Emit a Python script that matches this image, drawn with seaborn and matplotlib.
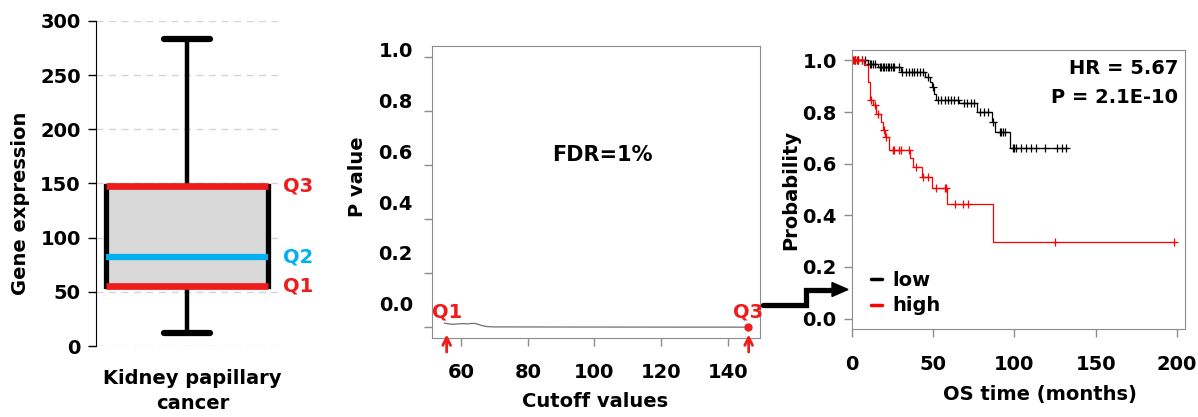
"""plot.py

Gene expression quartiles, cutoff scan and KM curves.

"""

import numpy as np
import matplotlib
matplotlib.use("Agg")
import matplotlib.pyplot as plt
import matplotlib.transforms as mtransforms
from matplotlib.lines import Line2D
from matplotlib.patches import Polygon
import seaborn as sns

# box summary (gene expression)
box_low = 12
box_q1 = 55
box_q2 = 82
box_q3 = 148
box_high = 283
box_ticks = [0, 50, 100, 150, 200, 250, 300]

# cutoff scan
cutoff = [55, 56, 57, 58, 59, 60, 61, 62, 63, 64, 65, 66, 67, 68, 70,
          75, 80, 90, 100, 110, 120, 130, 140, 146]
pval = [0.015, 0.013, 0.011, 0.011, 0.012, 0.013, 0.013, 0.012, 0.014,
        0.014, 0.011, 0.007, 0.004, 0.002, 0.001, 0.001, 0.0008, 0.0006,
        0.0005, 0.0004, 0.0003, 0.0002, 0.0001, 0.0001]
p_ticks = [0.0, 0.2, 0.4, 0.6, 0.8, 1.0]
cut_ticks = [60, 80, 100, 120, 140]

# Kaplan-Meier steps
low_t = [0, 10, 16, 30, 45, 48, 49.5, 50.5, 51.5, 66, 77, 86, 88, 97, 133]
low_s = [1.0, 0.987, 0.974, 0.955, 0.936, 0.917, 0.895, 0.87, 0.846,
         0.833, 0.80, 0.762, 0.723, 0.66, 0.66]
low_cens = [2, 4, 6, 8, 11, 12, 13, 14, 17, 18, 19, 20, 21, 22, 23, 24,
            25, 26, 29, 31, 33, 35, 37, 38, 40, 42, 44, 47, 50, 53, 55,
            57, 59, 61, 63, 65, 69, 71, 73, 75, 79, 81, 84, 87, 91, 92,
            93, 94, 99, 100, 101, 104, 107, 110, 113, 119, 126, 129, 132]
high_t = [0, 7.5, 10, 11, 13, 15, 18, 19, 20.5, 23, 35.7, 37.7, 42.9, 49,
          58.6, 87, 198]
high_s = [1.0, 0.98, 0.916, 0.846, 0.826, 0.794, 0.762, 0.73, 0.704,
          0.653, 0.62, 0.588, 0.55, 0.505, 0.444, 0.296, 0.296]
high_cens = [0.5, 1, 2, 3, 4, 6, 12, 14, 16, 19.5, 21, 25, 26, 29, 30, 35,
             39.5, 44, 47, 52, 57, 58, 63.4, 68.5, 71.5, 125, 198]
km_xticks = [0, 50, 100, 150, 200]
km_yticks = [0.0, 0.2, 0.4, 0.6, 0.8, 1.0]

RED = '#ee1c1c'
CYAN = '#00b0f0'
GRAY = '#8c8c8c'
FS = 14

W, H = 1198, 417


def fx(px):
    return px / W


def fy(py):
    return 1 - py / H


def step_value(times, surv, t):
    idx = np.searchsorted(times, t, side='right') - 1
    return np.asarray(surv)[idx]


sns.set_style('white')
plt.rcParams['font.family'] = ['DejaVu Sans']
plt.rcParams['font.weight'] = 'bold'
plt.rcParams['axes.labelweight'] = 'bold'
plt.rcParams['text.color'] = 'black'
plt.rcParams['axes.labelcolor'] = 'black'
plt.rcParams['xtick.labelcolor'] = 'black'
plt.rcParams['ytick.labelcolor'] = 'black'

fig = plt.figure(figsize=(W / 100, H / 100), dpi=100)

# ---- panel 1: box
ax1 = fig.add_axes([fx(96), fy(346), fx(182), 325 / H])
ax1.bxp([{'med': box_q2, 'q1': box_q1, 'q3': box_q3,
          'whislo': box_low, 'whishi': box_high, 'fliers': []}],
        positions=[0], widths=0.885, capwidths=0.253, patch_artist=True,
        showfliers=False,
        boxprops={'facecolor': '#d9d9d9', 'edgecolor': 'black',
                  'linewidth': 3.8},
        whiskerprops={'color': 'black', 'linewidth': 3.2},
        capprops={'color': 'black', 'linewidth': 4.5},
        medianprops={'color': CYAN, 'linewidth': 4.5, 'solid_capstyle': 'butt'})
ax1.hlines([box_q1, box_q3], -0.4425, 0.4425, color=RED, lw=4.8, zorder=5)
ax1.set_xlim(-0.5, 0.5)
ax1.set_ylim(0, 300)
ax1.set_yticks(box_ticks)
ax1.set_xticks([])
ax1.yaxis.grid(True, ls=(0, (5, 4)), color='#d4d4d4', lw=1)
ax1.set_axisbelow(True)
for side in ['top', 'right', 'bottom']:
    ax1.spines[side].set_visible(False)
ax1.spines['left'].set_color('black')
ax1.tick_params(axis='y', left=True, length=6, width=1, color='black',
                labelsize=FS, pad=5)
tr1 = mtransforms.blended_transform_factory(ax1.transAxes, ax1.transData)
for lab, val, col in [('Q3', box_q3, RED), ('Q2', box_q2, CYAN),
                      ('Q1', box_q1, RED)]:
    ax1.text(1.03, val, lab, color=col, fontsize=FS, fontweight='bold',
             ha='left', va='center', transform=tr1, clip_on=False)
ax1.set_ylabel('Gene expression', fontsize=FS)
ax1.yaxis.set_label_coords(-0.365, 0.44)
ax1.set_xlabel('Kidney papillary\ncancer', fontsize=FS, linespacing=1.35)
ax1.xaxis.set_label_coords(0.53, -0.072)

# ---- panel 2: cutoff scan
ax2 = fig.add_axes([fx(432), fy(338), fx(328), 292 / H])
sns.lineplot(x=cutoff, y=pval, ax=ax2, color='#707070', lw=0.9,
             estimator=None)
ax2.plot([cutoff[-1]], [pval[-1]], 'o', color=RED, ms=5, zorder=6)
ax2.set_xlim(51.3, 149.6)
ax2.set_ylim(-0.04, 1.04)
ax2.set_xticks(cut_ticks)
ax2.set_yticks(p_ticks)
ax2.set_yticklabels([])
for s in ax2.spines.values():
    s.set_color(GRAY)
ax2.tick_params(axis='both', length=6, width=1, color=GRAY, labelsize=FS)
ax2.tick_params(axis='x', bottom=True, pad=12)
ax2.tick_params(axis='y', left=True)
tr2 = mtransforms.blended_transform_factory(ax2.transAxes, ax2.transData)
for v in p_ticks:
    ax2.text(-0.058, 0.08 + 0.938 * v, '%.1f' % v, fontsize=FS,
             fontweight='bold', ha='right', va='center', transform=tr2)
ax2.text(0.52, 0.627, 'FDR=1%', fontsize=FS + 1, fontweight='bold',
         ha='center', va='center', transform=ax2.transAxes)
for lab, xv in [('Q1', 55.8), ('Q3', 146.1)]:
    ax2.text(xv, 0.055, lab, color=RED, fontsize=FS, fontweight='bold',
             ha='center', va='center', clip_on=False)
for xv in [55.7, 146.2]:
    ax2.annotate('', xy=(xv, -0.027), xytext=(xv, -0.092),
                 arrowprops={'arrowstyle': '->', 'color': RED, 'lw': 2,
                             'mutation_scale': 14,
                             'shrinkA': 0, 'shrinkB': 0},
                 annotation_clip=False)
ax2.set_ylabel('P value', fontsize=FS)
ax2.yaxis.set_label_coords(-0.199, 0.551)
ax2.set_xlabel('Cutoff values', fontsize=FS)
ax2.xaxis.set_label_coords(0.497, -0.185)

# ---- panel 3: KM
ax3 = fig.add_axes([fx(852), fy(329), fx(333), 279 / H])
sns.lineplot(x=low_t, y=low_s, ax=ax3, color='black', lw=0.9,
             drawstyle='steps-post', estimator=None)
sns.lineplot(x=high_t, y=high_s, ax=ax3, color='red', lw=0.9,
             drawstyle='steps-post', estimator=None)
ax3.plot(low_cens, step_value(low_t, low_s, low_cens), ls='', marker='+',
         color='black', ms=6, mew=0.9)
ax3.plot(high_cens, step_value(high_t, high_s, high_cens), ls='',
         marker='+', color='red', ms=6, mew=0.9)
ax3.set_xlim(0, 205)
ax3.set_ylim(-0.04, 1.04)
ax3.set_xticks(km_xticks)
ax3.set_yticks(km_yticks)
ax3.set_yticklabels(['%.1f' % v for v in km_yticks])
for s in ax3.spines.values():
    s.set_color(GRAY)
ax3.tick_params(axis='both', length=6, width=1, color=GRAY, labelsize=FS)
ax3.tick_params(axis='x', bottom=True, pad=13)
ax3.tick_params(axis='y', left=True, pad=5)
ax3.text(0.979, 0.935, 'HR = 5.67', fontsize=FS, fontweight='bold',
         ha='right', va='center', transform=ax3.transAxes)
ax3.text(0.979, 0.828, 'P = 2.1E-10', fontsize=FS, fontweight='bold',
         ha='right', va='center', transform=ax3.transAxes)
leg = ax3.legend(handles=[Line2D([], [], color='black', lw=2.5),
                          Line2D([], [], color='red', lw=2.5)],
                 labels=['low', 'high'], frameon=False, fontsize=FS,
                 handlelength=0.6, handletextpad=0.5, labelspacing=0.35,
                 loc='lower left', bbox_to_anchor=(0.015, 0.0),
                 borderaxespad=0.3)
ax3.set_ylabel('Probability', fontsize=FS)
ax3.yaxis.set_label_coords(-0.156, 0.498)
ax3.set_xlabel('OS time (months)', fontsize=FS)
ax3.xaxis.set_label_coords(0.565, -0.2)

# ---- connector arrow between panels
fig.add_artist(Line2D([fx(763), fx(805.5), fx(805.5), fx(834)],
                      [fy(305), fy(305), fy(289.5), fy(289.5)],
                      color='black', lw=3.8, solid_joinstyle='miter',
                      transform=fig.transFigure))
fig.add_artist(Polygon([[fx(832), fy(282.5)], [fx(848), fy(289.5)],
                        [fx(832), fy(296.5)]], closed=True,
                       color='black', transform=fig.transFigure))

fig.savefig('out.png', dpi=100)
